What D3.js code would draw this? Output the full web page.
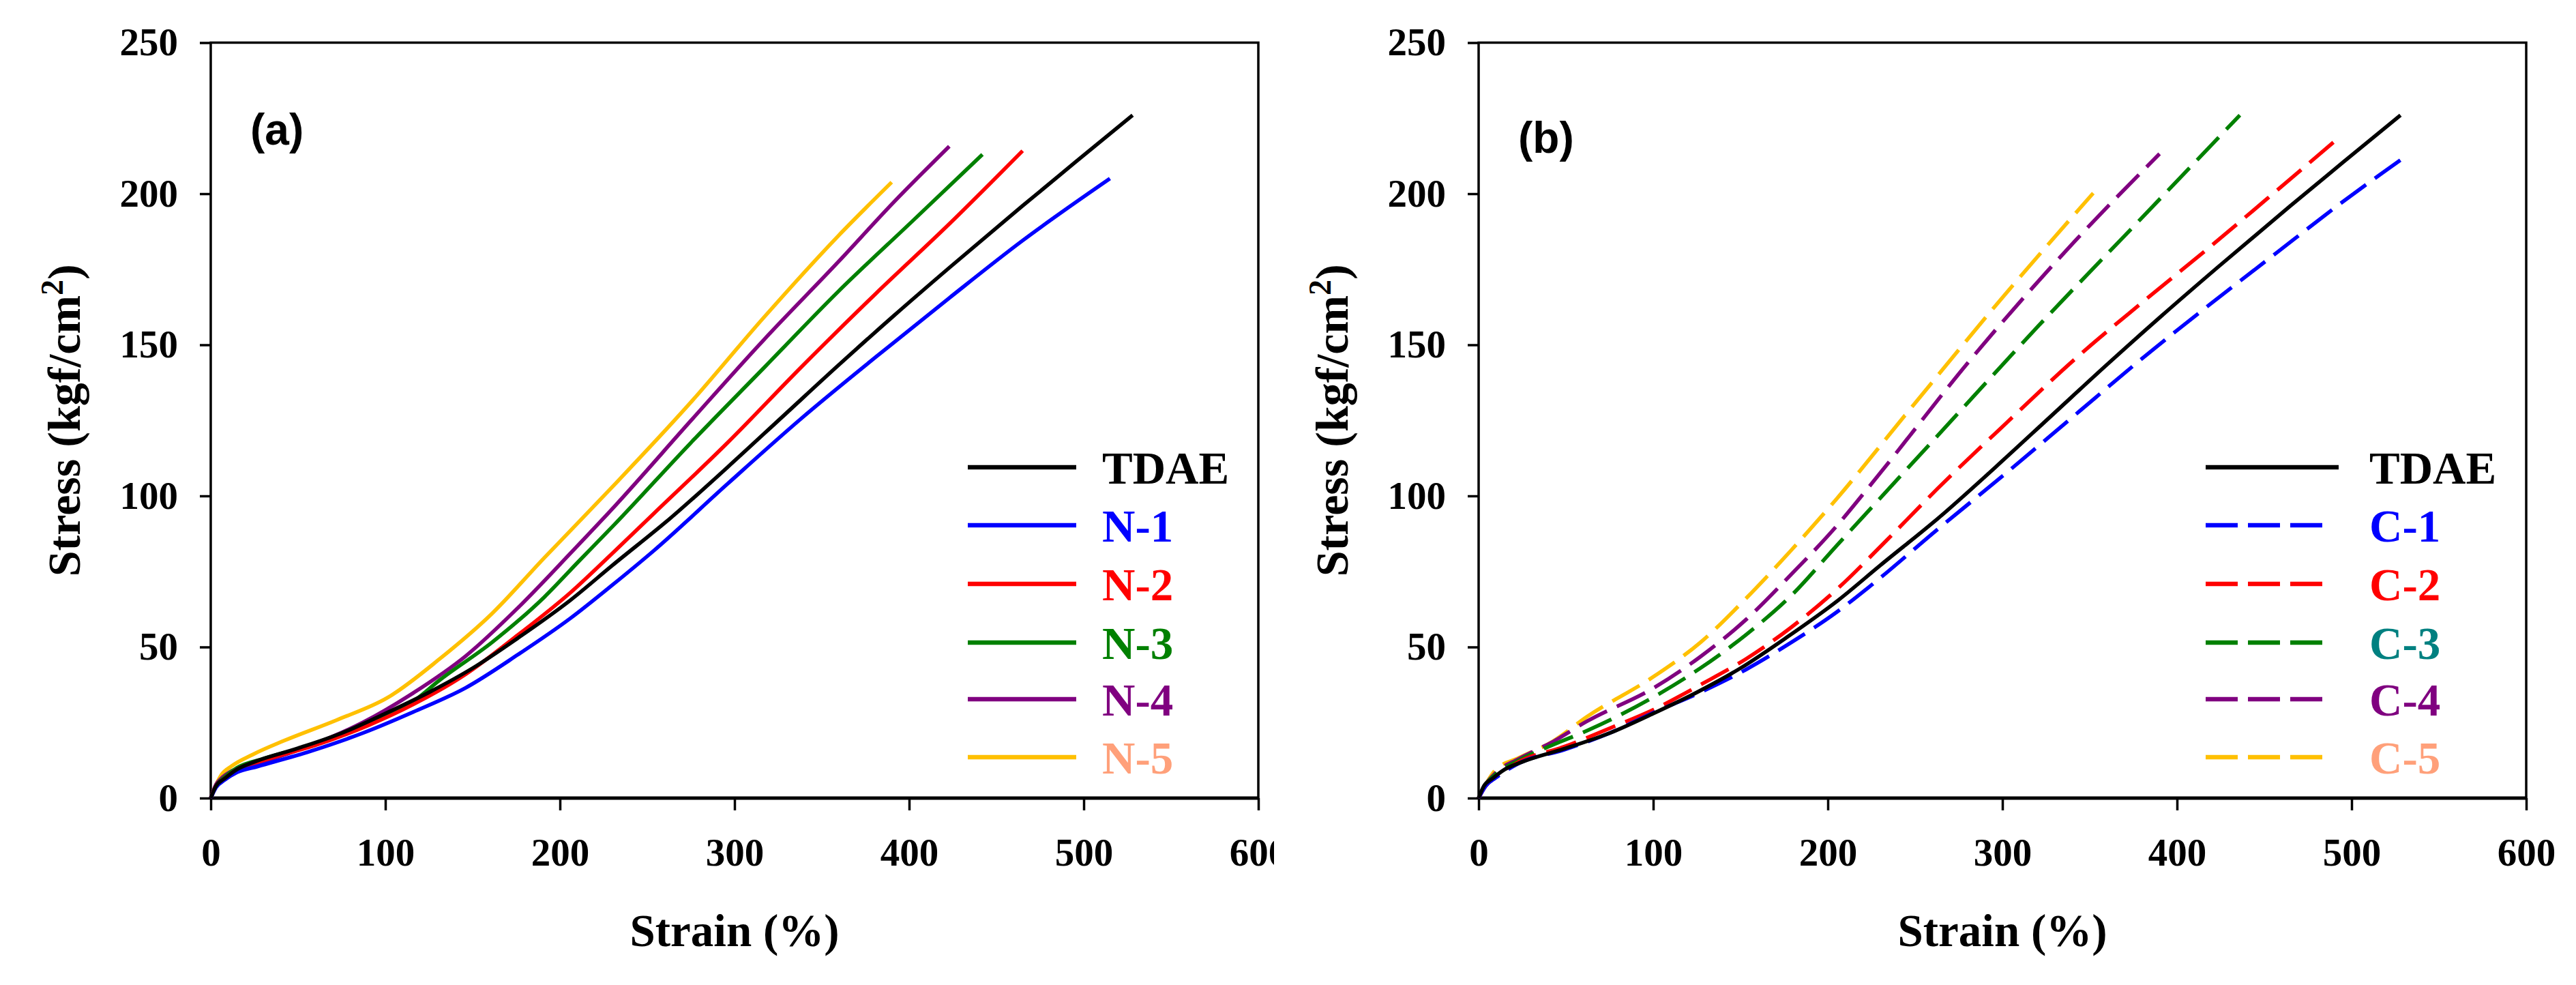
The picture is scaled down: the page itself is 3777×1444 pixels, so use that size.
<!DOCTYPE html>
<html>
<head>
<meta charset="utf-8">
<script src="https://cdn.jsdelivr.net/npm/d3@7"></script>
<style>
  body { margin: 0; background: #fff; }
  text { font-family: "Liberation Serif", "Times New Roman", serif; font-weight: bold; }
</style>
</head>
<body>
<svg id="chart" width="3777" height="1444"></svg>
<script>
// axis ticks
const strainTicks = [0, 100, 200, 300, 400, 500, 600];
const stressTicks = [0, 50, 100, 150, 200, 250];

// [strain %, stress kgf/cm2]
const tdae = [[0,0],[3,4],[8,6.5],[15,9.5],[25,12],[50,16.5],[75,21.5],[100,28],[125,35],[150,43],[176,53],[206,65.5],[230,77],[264,93],[296,109.5],[328,126.5],[360,143.5],[391,159.5],[423,175.5],[465,196],[497,211.3],[528,226]];

const n1 = [[0,0],[3,3.5],[8,6],[15,8.5],[27,10.5],[57,15.5],[87,21.5],[116,28.5],[146,36.5],[176,47.5],[206,59.5],[230,70.5],[254,82],[296,104],[338,125.5],[381,146],[423,165.5],[465,184.5],[515,205]];
const n2 = [[0,0],[3,4],[8,6.5],[15,9.5],[30,12.5],[60,17.5],[90,24],[116,31],[146,41],[176,54],[206,68],[230,81],[254,94.3],[296,117.6],[338,142.5],[381,167],[423,190],[465,214.2]];
const n3 = [[0,0],[3,4],[8,7],[15,10],[30,13],[60,18],[90,25],[116,32],[131,39],[161,51.5],[191,66.5],[211,78.5],[232,91],[275,117.6],[317,142.5],[359.5,167.7],[402,191],[442,213]];
const n4 = [[0,0],[3,4.5],[6,6.5],[12,9],[27,11.5],[57,17.4],[87,25],[116,34.8],[146,47],[176,63],[206,81],[232,97],[275,124.9],[317,151.8],[359.5,177.5],[391,197.1],[423,215.7]];
const n5 = [[0,0],[2,3],[6,7.6],[12,10.6],[24,14.4],[42,19],[72,25.8],[101.5,33.3],[131,46],[161,61],[191,79.5],[211,91.5],[232.5,104.5],[275,131],[317,159.2],[359.5,186.1],[390,203.8]];

const c1 = [[0,0],[4,4],[10,6.8],[23,11.5],[49,16],[75,21.5],[101,28.5],[127,35],[153,42.5],[179,51.5],[205,61.5],[225,70.5],[263,89],[302,107.5],[341,126.5],[379,145],[418,163],[456,180],[493,196.5],[530,212]];
const c2 = [[0,0],[4,4],[10,7],[23,12],[49,17],[75,23.1],[101,29.5],[127,37.5],[153,46],[179,56.5],[205,69],[234,85.5],[263,102.5],[302,124],[341,145],[380,164],[418,182],[456,200.5],[494,219.2]];
const c3 = [[0,0],[4,4.5],[10,8],[23,12.5],[42,17.5],[62,22.3],[101,33.7],[127,43],[153,54],[179,67],[205,83.5],[263,120],[321,156.5],[379,191.5],[436,226]];
const c4 = [[0,0],[4,4.5],[10,8.5],[23,13],[42,18.5],[62,25.4],[101,36.7],[127,46.8],[153,59],[179,74],[205,90],[225,104],[283,146],[341,184],[390,213.2]];
const c5 = [[0,0],[3,3.4],[10,9.5],[23,13.3],[42,18.6],[62,26.9],[101,40.5],[127,51.5],[153,66],[179,82],[205,99],[244,126.5],[302,167],[352,200.2]];

const namesA = ["TDAE", "N-1", "N-2", "N-3", "N-4", "N-5"];
const namesB = ["TDAE", "C-1", "C-2", "C-3", "C-4", "C-5"];
const lineColors = ["#000000", "#0000ff", "#ff0000", "#008000", "#800080", "#ffc000"];
const labelColorsA = ["#000000", "#0000ff", "#ff0000", "#008000", "#800080", "#ffa07a"];
const labelColorsB = ["#000000", "#0000ff", "#ff0000", "#008080", "#800080", "#ffa07a"];

const svg = d3.select("#chart");
const plotTop = 62.5, plotBottom = 1170;

function drawPanel(opt) {
  const g = svg.append("g");
  if (opt.clipRight) {
    svg.append("clipPath").attr("id", "clip-" + opt.id)
      .append("rect").attr("x", 0).attr("y", 0).attr("width", opt.clipRight).attr("height", 1444);
    g.attr("clip-path", `url(#clip-${opt.id})`);
  }

  const x = d3.scaleLinear().domain([0, 600]).range([opt.left, opt.left + 1536]);
  const y = d3.scaleLinear().domain([0, 250]).range([plotBottom, plotTop]);

  // frame
  g.append("rect")
    .attr("x", x(0)).attr("y", y(250))
    .attr("width", x(600) - x(0)).attr("height", y(0) - y(250))
    .attr("fill", "none").attr("stroke", "#000").attr("stroke-width", 3.5);
  g.append("line")
    .attr("x1", x(0)).attr("x2", x(600)).attr("y1", y(0)).attr("y2", y(0))
    .attr("stroke", "#000").attr("stroke-width", 5);

  const xAxis = g.append("g")
    .attr("transform", `translate(0,${plotBottom})`)
    .call(d3.axisBottom(x).tickValues(strainTicks).tickSize(18).tickSizeOuter(0).tickPadding(41));
  const yAxis = g.append("g")
    .attr("transform", `translate(${x(0)},0)`)
    .call(d3.axisLeft(y).tickValues(stressTicks).tickSize(16).tickSizeOuter(0).tickPadding(32));
  [xAxis, yAxis].forEach(a => {
    a.select(".domain").remove();
    a.selectAll(".tick line").attr("stroke", "#000").attr("stroke-width", 3.5);
    a.selectAll(".tick text")
      .attr("fill", "#000")
      .style("font-family", "'Liberation Serif', serif")
      .style("font-weight", "bold")
      .style("font-size", "57px");
  });

  // axis titles
  g.append("text")
    .attr("x", (x(0) + x(600)) / 2).attr("y", 1387)
    .attr("text-anchor", "middle")
    .style("font-size", "67px")
    .text("Strain (%)");

  const yt = g.append("text")
    .attr("transform", `translate(${x(0) - 192},${(plotTop + plotBottom) / 2}) rotate(-90)`)
    .attr("text-anchor", "middle")
    .style("font-size", "68px");
  yt.append("tspan").text("Stress (kgf/cm");
  yt.append("tspan").attr("baseline-shift", "super").style("font-size", "46px").text("2");
  yt.append("tspan").text(")");

  // panel tag
  g.append("text")
    .attr("x", x(0) + 58).attr("y", opt.tagY)
    .style("font-family", "'Liberation Sans', Arial, sans-serif")
    .style("font-size", "64px")
    .text(opt.tag);

  const line = d3.line()
    .x(d => x(d[0]))
    .y(d => y(d[1]))
    .curve(d3.curveMonotoneX);

  // draw back to front so TDAE ends on top
  const order = opt.series.map((s, i) => i).reverse();
  order.forEach(i => {
    g.append("path")
      .datum(opt.series[i])
      .attr("d", line)
      .attr("fill", "none")
      .attr("stroke", lineColors[i])
      .attr("stroke-width", 5.5)
      .attr("stroke-linejoin", "round")
      .attr("stroke-dasharray", opt.dashed && i > 0 ? "46,16" : null);
  });

  // legend
  const rowY = [685, 770, 856, 942, 1025, 1110];
  opt.names.forEach((name, i) => {
    const dashed = opt.dashed && i > 0;
    const len = dashed ? 171 : opt.legendLen;
    g.append("line")
      .attr("x1", opt.legendX).attr("x2", opt.legendX + len)
      .attr("y1", rowY[i]).attr("y2", rowY[i])
      .attr("stroke", lineColors[i])
      .attr("stroke-width", 6.5)
      .attr("stroke-dasharray", dashed ? "47,15" : null);
    g.append("text")
      .attr("x", opt.legendTextX).attr("y", rowY[i] + 24)
      .attr("fill", opt.labelColors[i])
      .style("font-size", "67px")
      .text(name);
  });
}

drawPanel({
  id: "a", tag: "(a)", tagY: 212, left: 309, clipRight: 1868,
  series: [tdae, n1, n2, n3, n4, n5], names: namesA, labelColors: labelColorsA,
  dashed: false, legendX: 1419, legendLen: 159, legendTextX: 1616
});

drawPanel({
  id: "b", tag: "(b)", tagY: 224, left: 2168, clipRight: null,
  series: [tdae, c1, c2, c3, c4, c5], names: namesB, labelColors: labelColorsB,
  dashed: true, legendX: 3234, legendLen: 195, legendTextX: 3474
});
</script>
</body>
</html>
